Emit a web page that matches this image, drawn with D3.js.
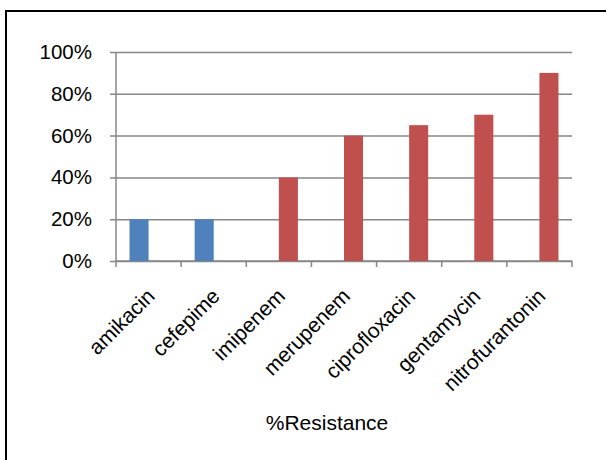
<!DOCTYPE html>
<html>
<head>
<meta charset="utf-8">
<script src="https://cdn.jsdelivr.net/npm/d3@7"></script>
<style>
  body { margin: 0; background: #fff; }
  svg text { font-family: "Liberation Sans", Arial, sans-serif; fill: #000; }
</style>
</head>
<body>
<div id="chart"></div>
<script>
// --- Data ---
const categories = ["amikacin", "cefepime", "imipenem", "merupenem", "ciprofloxacin", "gentamycin", "nitrofurantonin"];
const seriesKeys = ["blue", "red"];
const blueValues = [0.20, 0.20, null, null, null, null, null];
const redValues = [null, null, 0.40, 0.60, 0.65, 0.70, 0.90];
const yTicks = [0, 0.2, 0.4, 0.6, 0.8, 1.0];
const xTitle = "%Resistance";

const colors = { blue: "#4F81BD", red: "#C0504D" };

const W = 606, H = 460;
const plot = { left: 116, right: 572, top: 52, bottom: 261 };

const rows = categories.map((c, i) => ({ cat: c, blue: blueValues[i], red: redValues[i] }));

const svg = d3.select("#chart").append("svg")
  .attr("width", W)
  .attr("height", H);

// frame
svg.append("rect")
  .attr("x", 6).attr("y", 11)
  .attr("width", W).attr("height", H)
  .attr("fill", "none")
  .attr("stroke", "#000")
  .attr("stroke-width", 2);

// --- Scales ---
const x = d3.scaleBand()
  .domain(categories)
  .range([plot.left, plot.right])
  .padding(0);

const xInner = d3.scaleBand()
  .domain(seriesKeys)
  .range([0, x.bandwidth()])
  .paddingInner(0)
  .paddingOuter(0.71);

const y = d3.scaleLinear()
  .domain([0, 1])
  .range([plot.bottom, plot.top]);

const gridColor = "#878787";

// --- Gridlines + y axis ---
const yAxisG = svg.append("g")
  .attr("transform", `translate(${plot.left},0)`)
  .call(d3.axisLeft(y)
    .tickValues(yTicks)
    .tickSize(6)
    .tickPadding(18)
    .tickFormat(d3.format(".0%")));

yAxisG.select(".domain").attr("stroke", gridColor).attr("stroke-width", 1.5)
  .attr("d", `M0,${plot.top}V${plot.bottom}`);
yAxisG.selectAll(".tick line")
  .attr("stroke", gridColor)
  .attr("stroke-width", 1.5)
  .attr("x1", plot.right - plot.left);
yAxisG.selectAll(".tick text")
  .attr("font-size", "20.5px")
  .attr("font-family", "Liberation Sans, Arial, sans-serif");

// --- x axis ---
const boundaries = categories.map(c => x(c)).concat([plot.right]);
const xAxisG = svg.append("g");
xAxisG.append("line")
  .attr("x1", plot.left).attr("x2", plot.right)
  .attr("y1", plot.bottom).attr("y2", plot.bottom)
  .attr("stroke", gridColor).attr("stroke-width", 1.5);
xAxisG.selectAll("line.tick")
  .data(boundaries)
  .join("line")
  .attr("class", "tick")
  .attr("x1", d => d).attr("x2", d => d)
  .attr("y1", plot.bottom).attr("y2", plot.bottom + 6)
  .attr("stroke", gridColor).attr("stroke-width", 1.5);

xAxisG.selectAll("text.cat")
  .data(categories)
  .join("text")
  .attr("class", "cat")
  .attr("font-size", "21px")
  .attr("text-anchor", "end")
  .attr("transform", d => `translate(${x(d) + x.bandwidth() / 2 - 3},${plot.bottom + 26}) rotate(-45)`)
  .attr("dy", "0.7em")
  .text(d => d);

// --- Bars ---
const barG = svg.append("g");
seriesKeys.forEach(key => {
  barG.selectAll(`rect.${key}`)
    .data(rows.filter(r => r[key] != null))
    .join("rect")
    .attr("class", key)
    .attr("x", d => x(d.cat) + xInner(key))
    .attr("width", xInner.bandwidth())
    .attr("y", d => y(d[key]))
    .attr("height", d => y(0) - y(d[key]))
    .attr("fill", colors[key]);
});

// --- x title ---
svg.append("text")
  .attr("x", 327)
  .attr("y", 430)
  .attr("text-anchor", "middle")
  .attr("font-size", "21px")
  .text(xTitle);
</script>
</body>
</html>
